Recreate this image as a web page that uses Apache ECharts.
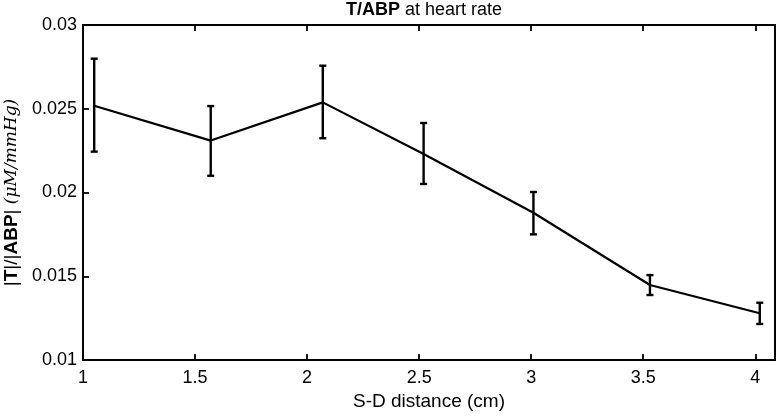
<!DOCTYPE html>
<html>
<head>
<meta charset="utf-8">
<script src="https://cdn.jsdelivr.net/npm/echarts@6/dist/echarts.min.js"></script>
<style>html,body{margin:0;padding:0;background:#fff}#c{width:780px;height:416px}</style>
</head>
<body>
<div id="c"></div>
<script>
var distances = [1.05, 1.57, 2.07, 2.52, 3.01, 3.53, 4.02];
var ratioMean = [0.02518, 0.02310, 0.02538, 0.02230, 0.01879, 0.01448, 0.01279];
var ratioUpper = [0.02799, 0.02516, 0.02757, 0.02415, 0.02003, 0.01507, 0.01342];
var ratioLower = [0.02244, 0.02100, 0.02324, 0.02051, 0.01750, 0.01388, 0.01215];
var xTicks = [1, 1.5, 2, 2.5, 3, 3.5, 4];
var yTicks = [0.01, 0.015, 0.02, 0.025, 0.03];

var font = 'Liberation Sans, Arial, sans-serif';
var chart = echarts.init(document.getElementById('c'), null, {renderer: 'canvas'});

var lineData = distances.map(function (d, i) { return [d, ratioMean[i]]; });
var errData = distances.map(function (d, i) { return [d, ratioLower[i], ratioUpper[i]]; });

function fmtX(v) {
  for (var i = 0; i < xTicks.length; i++) if (Math.abs(v - xTicks[i]) < 1e-6) return String(xTicks[i]);
  return '';
}
function fmtY(v) {
  for (var i = 0; i < yTicks.length; i++) if (Math.abs(v - yTicks[i]) < 1e-9) return String(yTicks[i]);
  return '';
}

var axisLineStyle = {color: '#000', width: 1.8};
var tickStyle = {color: '#000', width: 1.8};

chart.setOption({
  animation: false,
  backgroundColor: '#fff',
  grid: {left: 83, right: 5, top: 25, bottom: 56, show: true, borderColor: '#000', borderWidth: 1.8,
         containLabel: false, outerBoundsMode: 'none'},
  graphic: [{
    type: 'text',
    x: 424, y: 10,
    style: {
      text: '{b|T/ABP} at heart rate',
      rich: {
        b: {fontFamily: font, fontSize: 18, fontWeight: 'bold', fill: '#000'}
      },
      font: '18px ' + font,
      fill: '#000',
      align: 'center',
      verticalAlign: 'middle'
    }
  }],
  xAxis: [{
    type: 'value', position: 'bottom', min: 1, max: 4.088, interval: 0.5,
    axisLine: {show: true, lineStyle: axisLineStyle},
    axisTick: {show: true, inside: true, length: 6, lineStyle: tickStyle},
    axisLabel: {formatter: fmtX, color: '#000', fontFamily: font, fontSize: 18, margin: 9, showMaxLabel: false},
    splitLine: {show: false},
    name: 'S-D distance (cm)', nameLocation: 'middle', nameGap: 26,
    nameTextStyle: {color: '#000', fontFamily: font, fontSize: 19}
  }, {
    type: 'value', position: 'top', min: 1, max: 4.088, interval: 0.5,
    axisLine: {show: true, lineStyle: axisLineStyle},
    axisTick: {show: true, inside: true, length: 6, lineStyle: tickStyle},
    axisLabel: {show: false},
    splitLine: {show: false}
  }],
  yAxis: [{
    type: 'value', position: 'left', min: 0.01, max: 0.03, interval: 0.005,
    axisLine: {show: true, lineStyle: axisLineStyle},
    axisTick: {show: true, inside: true, length: 6, lineStyle: tickStyle},
    axisLabel: {formatter: fmtY, color: '#000', fontFamily: font, fontSize: 18, margin: 6},
    splitLine: {show: false},
    name: '|{b|T}|/|{b|ABP}| {i|(μM/mmHg)}', nameLocation: 'middle', nameGap: 58, nameRotate: 90,
    nameTextStyle: {
      color: '#000', fontFamily: font, fontSize: 19,
      rich: {
        b: {fontFamily: font, fontSize: 19, fontWeight: 'bold', color: '#000'},
        i: {fontFamily: 'DejaVu Serif, serif', fontSize: 17, fontStyle: 'italic', color: '#000'}
      }
    }
  }, {
    type: 'value', position: 'right', min: 0.01, max: 0.03, interval: 0.005,
    axisLine: {show: true, lineStyle: axisLineStyle},
    axisTick: {show: false},
    axisLabel: {show: false},
    splitLine: {show: false}
  }],
  series: [{
    type: 'line', xAxisIndex: 0, yAxisIndex: 0,
    data: lineData, showSymbol: false, symbol: 'none',
    lineStyle: {color: '#000', width: 2.2}, z: 3
  }, {
    type: 'custom', xAxisIndex: 0, yAxisIndex: 0,
    data: errData, z: 4,
    renderItem: function (params, api) {
      var x = api.value(0);
      var lo = api.coord([x, api.value(1)]);
      var hi = api.coord([x, api.value(2)]);
      var w = 3.5;
      var st = {stroke: '#000', lineWidth: 2.4};
      return {
        type: 'group',
        children: [
          {type: 'line', shape: {x1: lo[0], y1: lo[1], x2: hi[0], y2: hi[1]}, style: st},
          {type: 'line', shape: {x1: hi[0] - w, y1: hi[1], x2: hi[0] + w, y2: hi[1]}, style: st},
          {type: 'line', shape: {x1: lo[0] - w, y1: lo[1], x2: lo[0] + w, y2: lo[1]}, style: st}
        ]
      };
    }
  }]
});
</script>
</body>
</html>
